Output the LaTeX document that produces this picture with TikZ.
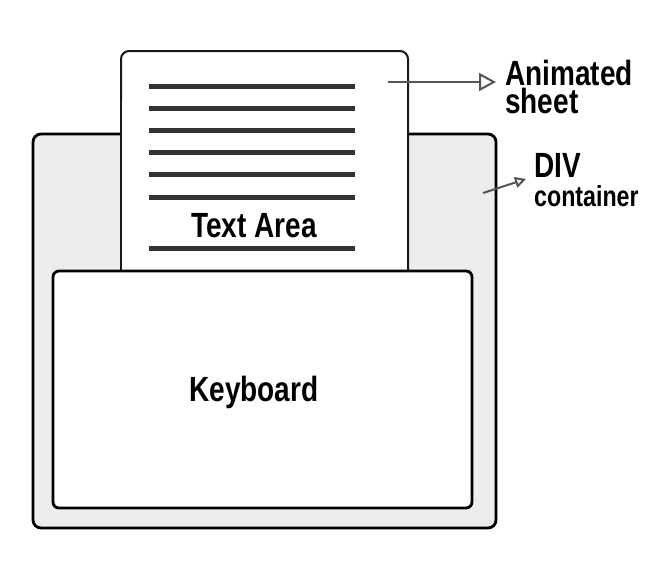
\documentclass[tikz,border=0pt]{standalone}
\usepackage{fontspec}
\newfontfamily\cond[FakeStretch=0.8]{Liberation Sans}
\usetikzlibrary{arrows.meta}
\definecolor{speck}{HTML}{EDEDED}
\definecolor{rule}{HTML}{333333}
\definecolor{arr}{HTML}{555555}
\tikzset{
  boxline/.style={draw=black, line width=2.8pt, rounded corners=8pt},
  sheetline/.style={draw=black!90, line width=2pt, rounded corners=8pt, fill=white},
  textrule/.style={draw=rule, line width=5pt},
  lbl/.style={font=\cond\bfseries\fontsize{35}{35}\selectfont, inner sep=0pt},
  sidelbl/.style={font=\cond\bfseries\fontsize{35}{28}\selectfont, inner sep=0pt, align=left},
  pointer/.style={draw=arr, line width=2pt},
}
\begin{document}
\begin{tikzpicture}[x=1pt,y=-1pt]
\useasboundingbox (0,0) rectangle (650,560);
% DIV container
\path[boxline, fill=speck] (33,134) rectangle (496,528);
\node[inner sep=0pt, minimum width=463pt, minimum height=394pt] (div) at (264.5,331) {};
% animated sheet
\path[sheetline] (121,290) -- (121,51) -- (408,51) -- (408,290);
\fill[white] (122,100) rectangle (407,290);
\node[inner sep=0pt, minimum width=287pt, minimum height=220pt] (sheet) at (264.5,161) {};
\foreach \yy in {86,108,130,152,174,197,248}
  \draw[textrule] (149,\yy) -- (355,\yy);
\node[lbl, anchor=base] (ta) at (254,237) {Text Area};
% keyboard
\path[boxline, rounded corners=6pt, fill=white] (53,271) rectangle (472,508);
\node[inner sep=0pt, minimum width=419pt, minimum height=237pt] (kb) at (262.5,389.5) {};
\node[lbl, anchor=base] (kbl) at (254,401) {Keyboard};
% labels
\node[sidelbl, anchor=north west] (anim) at (505,59.5) {Animated\\[0pt]sheet};
\node[sidelbl, anchor=north west] (divl) at (534,153) {DIV\\[1pt]{\fontsize{29}{29}\selectfont container}};
% pointers
\coordinate (a1s) at (388,82);
\coordinate (a1e) at (496,82);
\coordinate (a2s) at (483,193);
\coordinate (a2e) at (526,179);
\draw[pointer, -{Triangle[open, length=17pt, width=18pt, line width=2pt]}] (a1s) -- (a1e);
\draw[pointer, -{Triangle[open, length=11pt, width=11pt, line width=2pt]}] (a2s) -- (a2e);
\end{tikzpicture}
\end{document}
